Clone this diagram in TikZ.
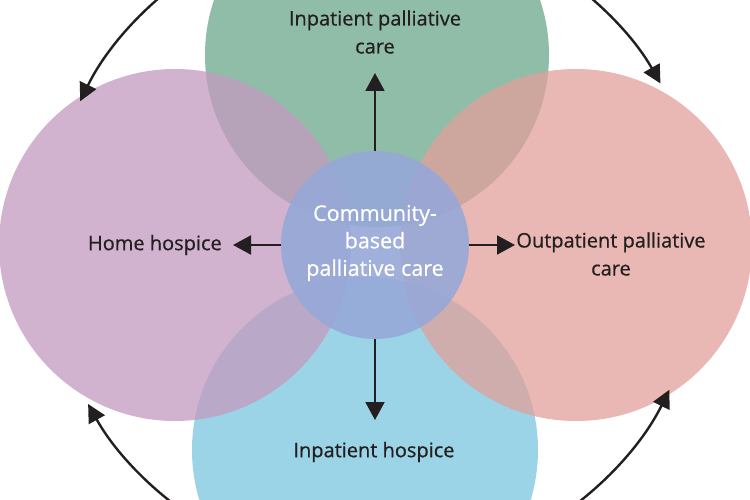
\documentclass[tikz,border=0pt]{standalone}
\usepackage{fontspec}
\setmainfont{Open Sans}[FakeBold=0.6]
\usetikzlibrary{arrows.meta}
\definecolor{cgreen}{RGB}{106,168,139}
\definecolor{cpurple}{RGB}{196,154,191}
\definecolor{csalmon}{RGB}{226,160,155}
\definecolor{cblue}{RGB}{122,198,222}
\definecolor{ccenter}{RGB}{150,168,216}
\definecolor{ctext}{RGB}{35,31,32}
\tikzset{
  blob/.style={circle, inner sep=0pt, fill opacity=0.75, draw=none},
  lbl/.style={text=ctext, font=\fontsize{20}{28}\selectfont, align=center, inner sep=0pt},
  inarr/.style={draw=ctext, line width=2pt, -{Triangle[length=18pt,width=19pt]}},
  outarr/.style={draw=ctext, line width=2.4pt, -{Triangle[length=18pt,width=18pt]}},
}
\begin{document}
\begin{tikzpicture}[x=1pt,y=-1pt]
\useasboundingbox (0,0) rectangle (750,500);
\clip (0,0) rectangle (750,500);
\fill[white] (0,0) rectangle (750,500);
% circles
\node[blob, fill=cgreen, minimum size=344pt] (green) at (377,55) {};
\node[blob, fill=cblue, minimum size=346pt] (blue) at (365,450) {};
\node[blob, fill=cpurple, minimum size=352pt] (purple) at (175,245) {};
\node[blob, fill=csalmon, minimum size=352pt] (salmon) at (576,245) {};
\node[circle, inner sep=0pt, fill=ccenter, fill opacity=0.9, minimum size=188pt] (center) at (375,245) {};
% center text
\node[lbl, text=white, font=\fontsize{21.5}{27.5}\selectfont] (ctxt) at (375,243) {Community-\\based\\palliative care};
% labels
\node[lbl] (tinpal) at (375,32) {Inpatient palliative\\care};
\node[lbl, anchor=east] (thome) at (222,245) {Home hospice};
\node[lbl] (toutpal) at (611,254) {Outpatient palliative\\care};
\node[lbl] (tinhos) at (374,452) {Inpatient hospice};
% inner arrow ends
\coordinate (eup) at (375,73);
\coordinate (eleft) at (233,245);
\coordinate (eright) at (515,245);
\coordinate (edown) at (375,420);
\draw[inarr] (center.north) -- (eup);
\draw[inarr] (center.west) -- (eleft);
\draw[inarr] (center.east) -- (eright);
\draw[inarr] (center.south) -- (edown);
% outer arcs
\coordinate (O) at (375,245);
\draw[outarr] (O) ++(-122:328) arc[start angle=-122, end angle=-154, radius=328];
\draw[outarr] (O) ++(-58:328) arc[start angle=-58, end angle=-29.5, radius=328];
\draw[outarr] (O) ++(122:328) arc[start angle=122, end angle=151, radius=328];
\draw[outarr] (O) ++(58:328) arc[start angle=58, end angle=26.2, radius=328];
\end{tikzpicture}
\end{document}
